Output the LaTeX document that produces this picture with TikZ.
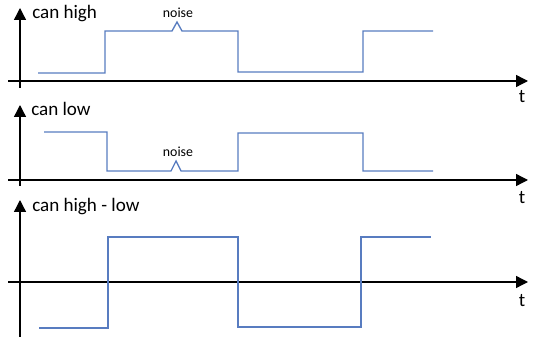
\documentclass[tikz,border=0pt]{standalone}
\usepackage{fontspec}
\setmainfont{Carlito}
\usepackage{xcolor}
\usepackage{tikz}
\usetikzlibrary{arrows.meta}
\definecolor{sigblue}{RGB}{88,124,192}

\begin{document}
\begin{tikzpicture}[x=0.75pt,y=-0.75pt,>={Triangle[length=9pt,width=9pt]},
    axis/.style={line width=1pt,->},
    signal/.style={draw=sigblue,line width=1pt},
    axlabel/.style={font=\fontsize{14.3}{16}\selectfont,anchor=west,inner sep=0pt},
    tlabel/.style={font=\fontsize{14.3}{16}\selectfont,inner sep=0pt},
    noiselabel/.style={font=\fontsize{10.4}{12}\selectfont,inner sep=0pt}]
        \useasboundingbox (0,0) rectangle (538,341);

        % Axes
        \coordinate (h0) at (8,81);   \coordinate (h1) at (528,81);
        \coordinate (h2) at (20,88);  \coordinate (h3) at (20,8);
        \coordinate (l0) at (8,180);  \coordinate (l1) at (528,180);
        \coordinate (l2) at (20,186); \coordinate (l3) at (20,105);
        \coordinate (d0) at (8,282);  \coordinate (d1) at (528,282);
        \coordinate (d2) at (20,337); \coordinate (d3) at (20,200);
        \draw[axis] (h0) -- (h1);
        \draw[axis] (h2) -- (h3);
        \draw[axis] (l0) -- (l1);
        \draw[axis] (l2) -- (l3);
        \draw[axis] (d0) -- (d1);
        \draw[axis] (d2) -- (d3);

        % Labels
        \node (lhigh) [axlabel] at (32,14) {can high};
        \node (llow) [axlabel] at (31,109) {can low};
        \node (ldiff) [axlabel] at (32,207) {can high - low};
        \node (t1) [tlabel] at (522,97) {t};
        \node (t2) [tlabel] at (522,198) {t};
        \node (t3) [tlabel] at (522,301) {t};
        \node (n1) [noiselabel] at (178,13) {noise};
        \node (n2) [noiselabel] at (178,152) {noise};

        % Signals
        \draw[signal] (38,73) -- (105,73) -- (105,31) -- (172,31) -- (177,22) -- (182,31)
            -- (238,31) -- (238,72) -- (363,72) -- (363,31) -- (433,31);
        \draw[signal] (44,132) -- (107,132) -- (107,171) -- (171,171) -- (176,161) -- (181,171)
            -- (238,171) -- (238,133) -- (363,133) -- (363,171) -- (433,171);
        \draw[signal] (39,328) -- (108,328) -- (108,237) -- (238,237) -- (238,327)
            -- (361,327) -- (361,237) -- (431,237);

    \end{tikzpicture}
\end{document}
